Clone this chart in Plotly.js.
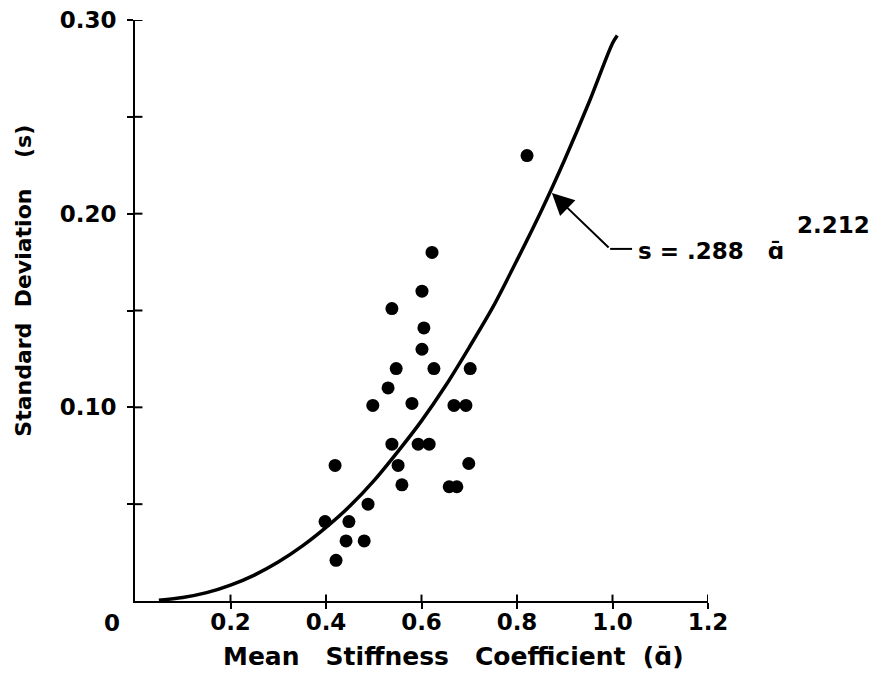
<!DOCTYPE html>
<html>
<head>
<meta charset="utf-8">
<script src="https://cdn.plot.ly/plotly-3.0.1.min.js"></script>
<style>html,body{margin:0;padding:0;background:#fff;}#chart{width:870px;height:674px;}</style>
</head>
<body>
<div id="chart"></div>
<script>
// Observed points: mean stiffness coefficient vs standard deviation
var stiffness = [0.398, 0.419, 0.421, 0.442, 0.448, 0.480, 0.488, 0.498, 0.530, 0.538,
                 0.538, 0.547, 0.551, 0.559, 0.580, 0.593, 0.601, 0.605, 0.601, 0.616,
                 0.622, 0.626, 0.658, 0.674, 0.668, 0.693, 0.702, 0.699, 0.821];
var stdDev    = [0.041, 0.070, 0.021, 0.031, 0.041, 0.031, 0.050, 0.101, 0.110, 0.081,
                 0.151, 0.120, 0.070, 0.060, 0.102, 0.081, 0.160, 0.141, 0.130, 0.081,
                 0.180, 0.120, 0.059, 0.059, 0.101, 0.101, 0.120, 0.071, 0.230];

// Fitted curve s = .288 a^2.212
var curveX = [0.05, 0.10, 0.15, 0.20, 0.25, 0.30, 0.35, 0.40, 0.45, 0.50, 0.55,
              0.60, 0.65, 0.70, 0.75, 0.80, 0.85, 0.90, 0.95, 1.00, 1.01];
var curveY = [0.0004, 0.0018, 0.0043, 0.0082, 0.0134, 0.0201, 0.0283, 0.038, 0.049, 0.062, 0.077,
              0.093, 0.111, 0.131, 0.152, 0.176, 0.201, 0.228, 0.257, 0.288, 0.292];

var xTickVals = [0.2, 0.4, 0.6, 0.8, 1.0, 1.2];
var xTickText = ['0.2', '0.4', '0.6', '0.8', '1.0', '1.2'];
var yTickVals = [0.05, 0.10, 0.15, 0.20, 0.25, 0.30];
var yTickText = ['', '0.10', '', '0.20', '', '0.30'];

var FONT = 'DejaVu Sans';
var tickFont = {family: FONT, size: 23, color: '#000', weight: 'bold'};

var traces = [
  {x: stiffness, y: stdDev, type: 'scatter', mode: 'markers',
   marker: {color: '#000', size: 13}, hoverinfo: 'skip'},
  {x: curveX, y: curveY, type: 'scatter', mode: 'lines',
   line: {color: '#000', width: 3.5, shape: 'spline', smoothing: 0.8}, hoverinfo: 'skip'}
];

// inner halves of the tick marks (outer halves come from the axes), so ticks cross the axis lines
var tickShapes = xTickVals.map(function (v) {
  return {type: 'line', xref: 'x', yref: 'y domain', x0: v, x1: v, y0: 0, y1: 0.011,
          line: {color: '#000', width: 2}};
}).concat(yTickVals.map(function (v) {
  return {type: 'line', xref: 'x domain', yref: 'y', x0: 0, x1: 0.013, y0: v, y1: v,
          line: {color: '#000', width: 2}};
}));

var layout = {
  width: 870, height: 674,
  margin: {l: 135, r: 162, t: 20, b: 73},
  paper_bgcolor: '#fff', plot_bgcolor: '#fff',
  showlegend: false,
  xaxis: {range: [0, 1.2], showgrid: false, zeroline: false, showline: true,
          linecolor: '#000', linewidth: 2, ticks: 'outside', ticklen: 6, tickwidth: 2,
          tickcolor: '#000', tickvals: xTickVals, ticktext: xTickText, tickfont: tickFont,
          ticklabelstandoff: -7},
  yaxis: {range: [0, 0.30], showgrid: false, zeroline: false, showline: true,
          linecolor: '#000', linewidth: 2, ticks: 'outside', ticklen: 6, tickwidth: 2,
          tickcolor: '#000', tickvals: yTickVals, ticktext: yTickText, tickfont: tickFont,
          ticklabelstandoff: 6},
  shapes: tickShapes.concat([
    {type: 'line', xref: 'x', yref: 'y', x0: 0.995, y0: 0.1818, x1: 1.041, y1: 0.1818,
     line: {color: '#000', width: 2}}
  ]),
  annotations: [
    {xref: 'paper', yref: 'paper', x: -0.040, y: -0.038, text: '0', showarrow: false,
     xanchor: 'center', yanchor: 'middle', font: tickFont},
    {xref: 'paper', yref: 'paper', x: 0.555, y: -0.095,
     text: 'Mean\u00a0\u00a0\u00a0Stiffness\u00a0\u00a0\u00a0Coefficient\u00a0\u00a0(\u0251\u0304)',
     showarrow: false, xanchor: 'center', yanchor: 'middle',
     font: {family: FONT, size: 25, color: '#000', weight: 'bold'}},
    {xref: 'paper', yref: 'paper', x: -0.194, y: 0.551, textangle: -90,
     text: 'Standard\u00a0\u00a0Deviation\u00a0\u00a0\u00a0\u00a0(s)',
     showarrow: false, xanchor: 'center', yanchor: 'middle',
     font: {family: FONT, size: 22, color: '#000', weight: 'bold'}},
    {xref: 'x', yref: 'y', x: 0.873, y: 0.2107, axref: 'x', ayref: 'y', ax: 0.995, ay: 0.1818,
     text: '', showarrow: true, arrowhead: 2, arrowsize: 2.2, arrowwidth: 2, arrowcolor: '#000'},
    {xref: 'paper', yref: 'paper', x: (636 - 135) / 573, y: (601 - 251) / 581,
     text: 's\u00a0=\u00a0.288\u00a0\u00a0\u00a0\u0251\u0304', showarrow: false,
     xanchor: 'left', yanchor: 'middle',
     font: {family: FONT, size: 23, color: '#000', weight: 'bold'}},
    {xref: 'paper', yref: 'paper', x: (795 - 135) / 573, y: (601 - 225) / 581,
     text: '2.212', showarrow: false, xanchor: 'left', yanchor: 'middle',
     font: {family: FONT, size: 23, color: '#000', weight: 'bold'}}
  ]
};

Plotly.newPlot('chart', traces, layout, {displayModeBar: false, staticPlot: true});
</script>
</body>
</html>
